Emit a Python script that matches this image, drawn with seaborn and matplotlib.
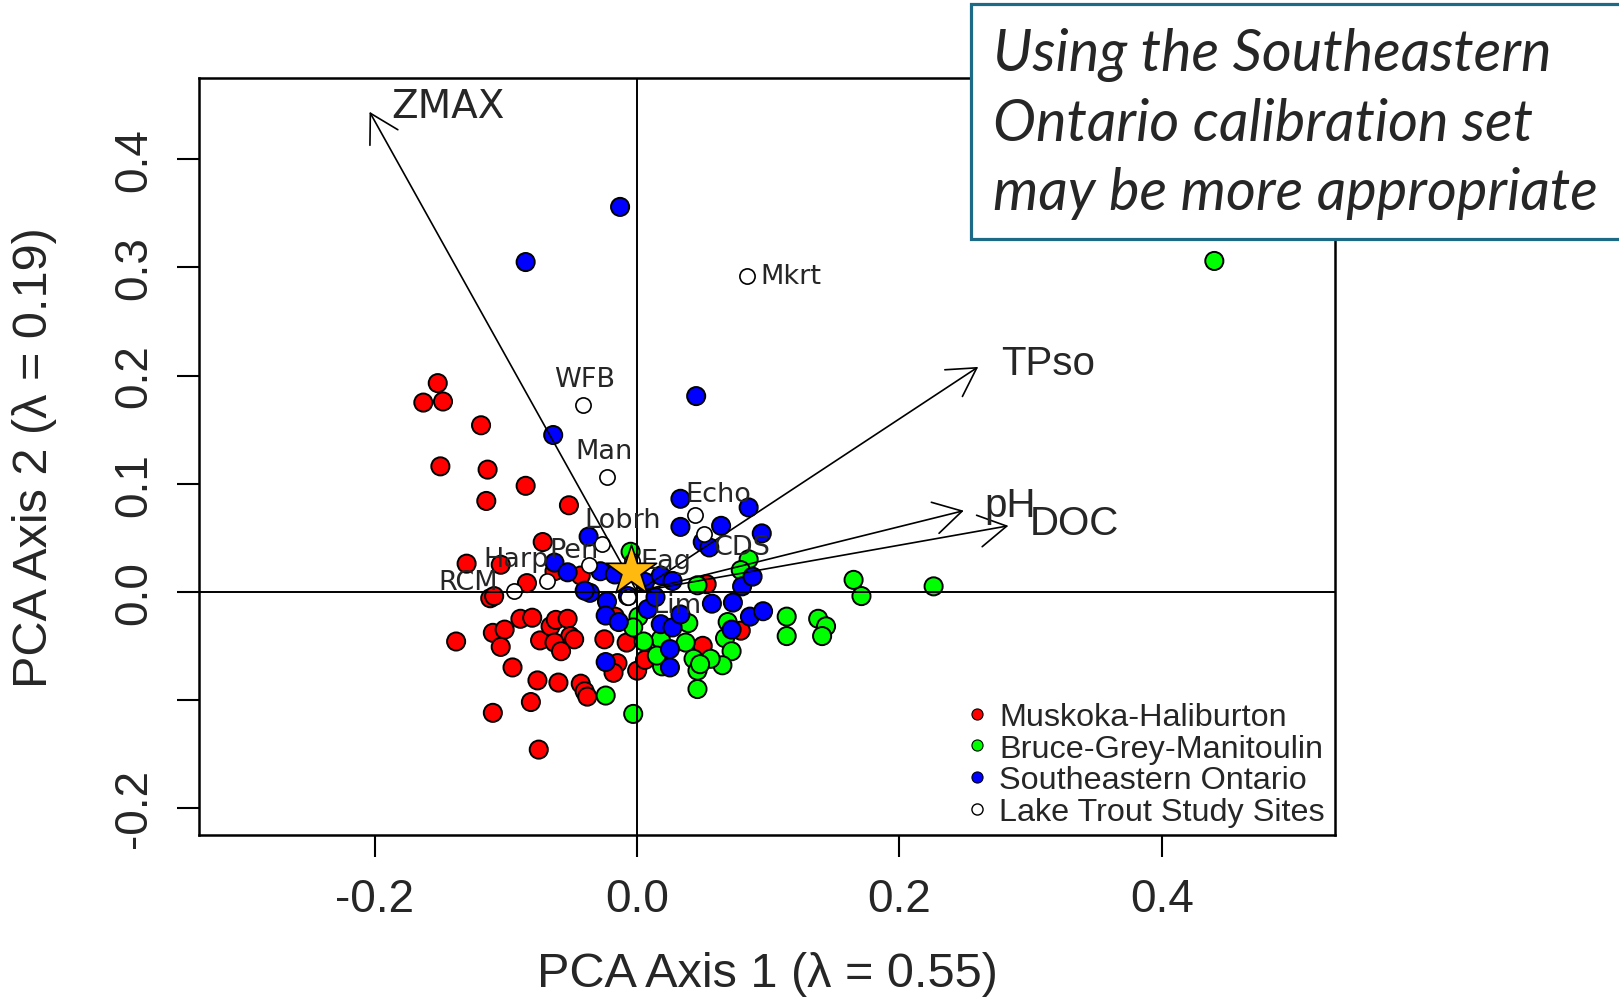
import pandas as pd
import matplotlib.pyplot as plt
import seaborn as sns
from matplotlib.lines import Line2D
from matplotlib.patches import Rectangle

# PCA site scores (axis 1, axis 2)
muskoka_x = [-0.152, -0.163, -0.148, -0.119, -0.150, -0.114, -0.085, -0.115, -0.052, -0.072,
             -0.130, -0.104, -0.084, -0.112, -0.109, -0.043, -0.063, 0.053, -0.089, -0.080,
             -0.110, -0.101, -0.138, -0.104, -0.074, -0.066, -0.062, -0.053, -0.051, -0.048,
             -0.063, -0.058, -0.025, -0.008, -0.017, 0.050, 0.079, -0.095, -0.076, -0.060,
             -0.043, -0.040, -0.038, -0.015, -0.018, 0.000, 0.006, -0.081, -0.110, -0.075]
muskoka_y = [0.193, 0.175, 0.176, 0.154, 0.116, 0.113, 0.098, 0.084, 0.080, 0.046,
             0.026, 0.025, 0.008, -0.006, -0.004, 0.015, 0.019, 0.007, -0.025, -0.024,
             -0.038, -0.035, -0.046, -0.051, -0.045, -0.032, -0.026, -0.025, -0.041, -0.044,
             -0.047, -0.055, -0.044, -0.047, -0.023, -0.050, -0.036, -0.070, -0.082, -0.084,
             -0.085, -0.092, -0.097, -0.066, -0.075, -0.073, -0.063, -0.102, -0.112, -0.146]

bruce_x = [-0.005, 0.085, 0.079, 0.046, 0.165, 0.171, 0.226, 0.114, 0.114, 0.138,
           0.144, 0.141, 0.039, 0.069, 0.067, 0.018, 0.037, 0.072, 0.065, 0.056,
           0.043, 0.046, 0.019, 0.015, 0.046, 0.001, -0.003, 0.005, -0.024, -0.003,
           0.440, 0.048]
bruce_y = [0.037, 0.030, 0.020, 0.006, 0.011, -0.004, 0.005, -0.023, -0.041, -0.025,
           -0.032, -0.041, -0.029, -0.028, -0.043, -0.044, -0.047, -0.055, -0.068, -0.062,
           -0.062, -0.073, -0.069, -0.059, -0.090, -0.023, -0.033, -0.046, -0.096, -0.113,
           0.306, -0.067]

se_ontario_x = [-0.013, -0.085, 0.045, -0.064, 0.033, 0.085, 0.095, 0.033, 0.064, 0.050,
                0.055, -0.037, -0.063, -0.053, -0.028, -0.017, -0.036, -0.023, -0.007, 0.006,
                0.018, 0.027, 0.008, 0.014, -0.024, -0.014, 0.018, 0.027, 0.025, 0.025,
                -0.024, 0.057, 0.073, 0.086, 0.096, 0.072, 0.080, 0.088, 0.033, -0.040]
se_ontario_y = [0.356, 0.305, 0.181, 0.145, 0.086, 0.078, 0.054, 0.060, 0.061, 0.046,
                0.041, 0.051, 0.027, 0.018, 0.019, 0.016, -0.001, -0.009, -0.004, 0.009,
                0.015, 0.010, -0.016, -0.005, -0.022, -0.028, -0.030, -0.033, -0.053, -0.070,
                -0.065, -0.011, -0.010, -0.023, -0.018, -0.035, 0.005, 0.014, -0.021, 0.001]

# Lake trout study sites and where their names sit
site_names = ['Mkrt', 'WFB', 'Man', 'Echo', 'CDS', 'Lobrh', 'Pen', 'Harp', 'RCM', 'Eag', 'Lim']
site_x = [0.084, -0.041, -0.023, 0.044, 0.051, -0.027, -0.037, -0.069, -0.094, -0.004, -0.007]
site_y = [0.292, 0.173, 0.106, 0.071, 0.053, 0.044, 0.025, 0.010, 0.001, 0.028, -0.005]
site_label_x = [0.094, -0.040, -0.025, 0.062, 0.080, -0.011, -0.048, -0.092, -0.129, 0.022, 0.030]
site_label_y = [0.292, 0.197, 0.130, 0.090, 0.041, 0.066, 0.039, 0.030, 0.009, 0.028, -0.012]

# environmental vectors
vector_names = ['ZMAX', 'TPso', 'pH', 'DOC']
vector_x = [-0.204, 0.260, 0.249, 0.283]
vector_y = [0.444, 0.208, 0.075, 0.061]
vector_label_x = [-0.144, 0.313, 0.284, 0.333]
vector_label_y = [0.449, 0.212, 0.080, 0.064]

# the core being assessed
star_x = [-0.005]
star_y = [0.019]

regions = ['Muskoka-Haliburton', 'Bruce-Grey-Manitoulin', 'Southeastern Ontario']
region_colors = ['#FF0000', '#00FF00', '#0000FF']

df = pd.concat([
    pd.DataFrame({'pc1': muskoka_x, 'pc2': muskoka_y, 'region': regions[0]}),
    pd.DataFrame({'pc1': bruce_x, 'pc2': bruce_y, 'region': regions[1]}),
    pd.DataFrame({'pc1': se_ontario_x, 'pc2': se_ontario_y, 'region': regions[2]}),
], ignore_index=True)
sites = pd.DataFrame({'pc1': site_x, 'pc2': site_y, 'name': site_names})

sns.set_style('ticks')
plt.rcParams['font.family'] = ['Liberation Sans', 'DejaVu Sans']

fig = plt.figure(figsize=(16.19, 10.03), dpi=100)
ax = fig.add_axes([0.12292, 0.16650, 0.70167, 0.75523])

sns.scatterplot(data=df, x='pc1', y='pc2', hue='region',
                palette=dict(zip(regions, region_colors)),
                s=170, edgecolor='black', linewidth=1.4, legend=False, ax=ax, zorder=2)
sns.scatterplot(data=sites, x='pc1', y='pc2', color='white', s=120,
                edgecolor='black', linewidth=1.2, legend=False, ax=ax, zorder=3)

ax.axhline(0, color='black', lw=1.4, zorder=4)
ax.axvline(0, color='black', lw=1.4, zorder=4)

for name, vx, vy, lx, ly in zip(vector_names, vector_x, vector_y, vector_label_x, vector_label_y):
    ax.annotate('', xy=(vx, vy), xytext=(0, 0),
                arrowprops=dict(arrowstyle='->,head_length=0.4,head_width=0.23',
                                mutation_scale=50, lw=1.2, color='black',
                                shrinkA=0, shrinkB=0), zorder=4)
    if name == 'ZMAX':
        ax.text(lx, ly, name, fontsize=28, family='DejaVu Sans', ha='center', va='center', zorder=5)
    else:
        ax.text(lx, ly, name, fontsize=29, ha='center', va='center', zorder=5)

for name, lx, ly in zip(site_names, site_label_x, site_label_y):
    ax.text(lx, ly, name, fontsize=19.5, family='DejaVu Sans',
            ha='left' if name == 'Mkrt' else 'center', va='center', zorder=5)

sns.scatterplot(x=star_x, y=star_y, marker='*', s=1450, color='#FFB90F',
                edgecolor='black', linewidth=1.2, legend=False, ax=ax, zorder=6)

ax.set_xlim(-0.334, 0.532)
ax.set_ylim(-0.225, 0.4757)
ax.set_xticks([-0.2, 0.0, 0.2, 0.4])
ax.set_xticklabels(['-0.2', '0.0', '0.2', '0.4'])
ax.set_yticks([-0.2, -0.1, 0.0, 0.1, 0.2, 0.3, 0.4])
ax.set_yticklabels(['-0.2', '', '0.0', '0.1', '0.2', '0.3', '0.4'], rotation=90, va='center')
ax.tick_params(labelsize=33, length=16, width=1.5, color='black')
ax.tick_params(axis='x', pad=14)
ax.tick_params(axis='y', pad=15)
for sp in ax.spines.values():
    sp.set_linewidth(1.8)
    sp.set_color('black')

ax.set_xlabel('PCA Axis 1 (\u03bb = 0.55)', fontsize=35)
ax.set_ylabel('PCA Axis 2 (\u03bb = 0.19)', fontsize=35)
ax.xaxis.set_label_coords(0.5, (836 - 975) / 757.5)
ax.xaxis.label.set_va('center')
ax.yaxis.set_label_coords((34 - 199) / 1136, 0.5)
ax.yaxis.label.set_va('center')
ax.yaxis.label.set_ha('center')

handles = [Line2D([0], [0], marker='o', linestyle='none', markersize=8,
                  markerfacecolor=c, markeredgecolor='black', markeredgewidth=0.8)
           for c in region_colors]
handles.append(Line2D([0], [0], marker='o', linestyle='none', markersize=8,
                      markerfacecolor='white', markeredgecolor='black', markeredgewidth=1.0))
ax.legend(handles, regions + ['Lake Trout Study Sites'], loc='upper left',
          bbox_to_anchor=(0.676, 0.1755), frameon=False, fontsize=23.3,
          borderpad=0, borderaxespad=0, handlelength=0.6, handletextpad=0.4,
          labelspacing=0.05)

# call-out box on the top right
box = Rectangle((0.5995, 0.7612), 0.45, 0.2338, transform=fig.transFigure,
                facecolor='white', edgecolor='#1c6a86', lw=2.3, zorder=10)
fig.add_artist(box)
note_lines = ['Using the Southeastern', 'Ontario calibration set', 'may be more appropriate']
for i, line in enumerate(note_lines):
    fig.text(0.6133, 0.9456 - i * 0.0695, line, fontsize=41.5, family='Lato', style='italic',
             ha='left', va='center', zorder=11)

fig.savefig('out.png', dpi=100)
